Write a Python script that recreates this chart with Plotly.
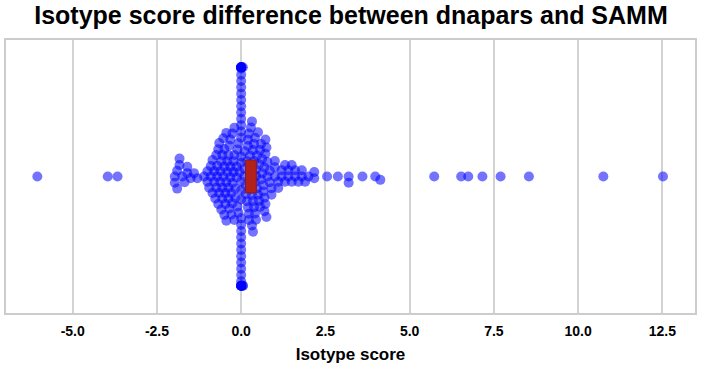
import numpy as np
import plotly.graph_objects as go

TITLE = "Isotype score difference between dnapars and SAMM"
X_LABEL = "Isotype score"

# isotype score differences (value, number of observations at that value)
SCORE_VALUES = [-6.05, -3.96, -3.67,
                -1.97, -1.9, -1.83, -1.75, -1.68, -1.6, -1.5, -1.4, -1.3,
                -1.1, -1.0, -0.95, -0.9, -0.85,
                -0.80, -0.77, -0.74, -0.71, -0.68, -0.65, -0.62, -0.59, -0.56, -0.53,
                -0.50, -0.47, -0.44, -0.41, -0.38, -0.35, -0.32, -0.29, -0.26, -0.23,
                -0.20, -0.17, -0.14, -0.11, -0.08, -0.05,
                0.0,
                0.05, 0.1,
                0.14, 0.17, 0.20, 0.23, 0.26, 0.29, 0.32, 0.35, 0.38, 0.41, 0.44,
                0.47, 0.50, 0.53, 0.56, 0.59, 0.62,
                0.66, 0.69, 0.72, 0.75, 0.78,
                0.85, 0.9, 1.0, 1.1, 1.2, 1.3, 1.4, 1.5, 1.6, 1.7, 1.8, 1.9, 2.0, 2.17,
                2.55, 2.87, 3.19, 3.6, 3.98, 4.13, 5.73, 6.53, 6.74, 7.16, 7.7, 8.54, 10.75, 12.52]
SCORE_COUNTS = [1, 1, 1,
                2, 2, 2, 1, 1, 2, 1, 1, 1,
                1, 2, 1, 2, 2,
                2, 1, 2, 2, 2, 2, 2, 2, 3, 2,
                3, 2, 3, 2, 3, 2, 3, 2, 3, 2,
                3, 2, 2, 2, 2, 1,
                40,
                3, 3,
                2, 2, 3, 3, 3, 3, 3, 3, 3, 3, 3,
                2, 2, 2, 2, 2, 2,
                2, 3, 3, 2, 2,
                2, 2, 3, 2, 2, 2, 2, 2, 2, 1, 2, 1, 1, 2,
                1, 1, 2, 1, 1, 1, 1, 1, 1, 1, 1, 1, 1, 1]

TICK_VALUES = [-5.0, -2.5, 0.0, 2.5, 5.0, 7.5, 10.0, 12.5]
TICK_LABELS = ["-5.0", "-2.5", "0.0", "2.5", "5.0", "7.5", "10.0", "12.5"]

MEAN_CI = [0.13, 0.45]      # red summary box (x extent)
X_RANGE = [-6.98, 13.47]

W, H = 702, 372
MARGIN = dict(l=6, r=5, t=40, b=59)
plot_w = W - MARGIN["l"] - MARGIN["r"]
plot_h = H - MARGIN["t"] - MARGIN["b"]
px_per_x = plot_w / (X_RANGE[1] - X_RANGE[0])
px_per_y = plot_h / 1.0

scores = np.repeat(np.array(SCORE_VALUES, float), SCORE_COUNTS)


def swarm(values_px, diameter, limit_px):
    n = len(values_px)
    order = np.argsort(values_px, kind="stable")
    placed = []
    offs = np.zeros(n)
    for i in order:
        v = values_px[i]
        nb = [(pv, po) for pv, po in placed if abs(pv - v) < diameter]
        cands = [0.0]
        left = True
        for pv, po in nb:
            dv = v - pv
            do = np.sqrt(max(diameter ** 2 - dv ** 2, 0.0)) * 1.05
            a, b = po - do, po + do
            cands += [a, b] if left else [b, a]
            left = not left
        cands = np.array(cands)
        cands = cands[np.argsort(np.abs(cands), kind="stable")]
        chosen = cands[-1]
        for c in cands:
            ok = True
            for pv, po in nb:
                if (pv - v) ** 2 + (po - c) ** 2 < diameter ** 2 * 0.999:
                    ok = False
                    break
            if ok:
                chosen = c
                break
        placed.append((v, chosen))
        offs[i] = chosen
    return np.clip(offs, -limit_px, limit_px)


offsets_px = swarm(scores * px_per_x, 6.0, 0.4 * px_per_y)
y_pos = offsets_px / px_per_y

fig = go.Figure()
fig.add_trace(go.Scatter(
    x=scores, y=y_pos, mode="markers",
    marker=dict(size=10, color="rgba(0,0,255,0.55)", line=dict(width=0)),
    hoverinfo="x", showlegend=False))

fig.add_shape(type="rect", xref="x", yref="y",
              x0=MEAN_CI[0], x1=MEAN_CI[1], y0=-0.06, y1=0.06,
              fillcolor="#b3211b", line=dict(color="#8e1a14", width=1),
              layer="above")

font_family = "Liberation Sans, Arial, Helvetica, sans-serif"
fig.update_layout(
    width=W, height=H, margin=MARGIN,
    paper_bgcolor="white", plot_bgcolor="white",
    title=dict(text=TITLE, x=0.5, xanchor="center", y=0.958, yanchor="middle",
               font=dict(family=font_family, size=25, color="black", weight="bold")),
    xaxis=dict(range=X_RANGE, tickvals=TICK_VALUES, ticktext=TICK_LABELS,
               showgrid=True, gridcolor="#d3d3d3", gridwidth=2,
               zeroline=False, showline=True, mirror=True,
               linecolor="#cccccc", linewidth=2, ticks="", ticklabelstandoff=4,
               tickfont=dict(family=font_family, size=14, color="black", weight="bold"),
               title=dict(text=X_LABEL, standoff=10,
                          font=dict(family=font_family, size=17, color="black", weight="bold"))),
    yaxis=dict(range=[-0.5, 0.5], showgrid=False, zeroline=False,
               showticklabels=False, ticks="", showline=True, mirror=True,
               linecolor="#cccccc", linewidth=2),
)

fig.write_html("out.html", config={"displayModeBar": False},
               post_script="document.body.style.margin='0';document.body.style.padding='0';")
